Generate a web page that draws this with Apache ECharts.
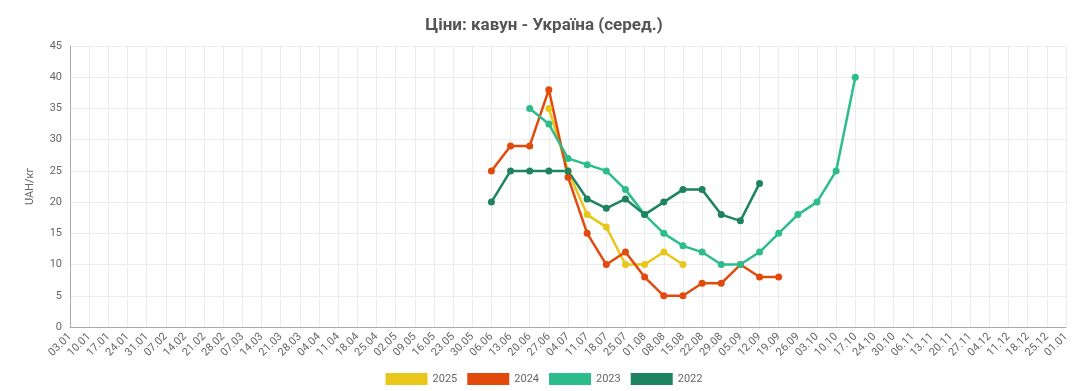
<!DOCTYPE html>
<html>
<head>
<meta charset="utf-8">
<script src="https://cdn.jsdelivr.net/npm/echarts@6/dist/echarts.min.js"></script>
<style>html,body{margin:0;padding:0;background:#fff}#c{width:1088px;height:391px}</style>
</head>
<body>
<div id="c"></div>
<script>
const categories = ["03.01","10.01","17.01","24.01","31.01","07.02","14.02","21.02","28.02","07.03","14.03","21.03","28.03","04.04","11.04","18.04","25.04","02.05","09.05","16.05","23.05","30.05","06.06","13.06","20.06","27.06","04.07","11.07","18.07","25.07","01.08","08.08","15.08","22.08","29.08","05.09","12.09","19.09","26.09","03.10","10.10","17.10","24.10","30.10","06.11","13.11","20.11","27.11","04.12","11.12","18.12","25.12","01.01"];
const pad = n => Array(n).fill(null);
// values starting at 06.06 (index 22)
const v2025 = [null,null,null,35,25,18,16,10,10,12,10];
const v2024 = [25,29,29,38,24,15,10,12,8,5,5,7,7,10,8,8];
const v2023 = [null,null,35,32.5,27,26,25,22,18,15,13,12,10,10,12,15,18,20,25,40];
const v2022 = [20,25,25,25,25,20.5,19,20.5,18,20,22,22,18,17,23];
const startIndex = 22;
const yTicks = [0,5,10,15,20,25,30,35,40,45];
const full = arr => pad(startIndex).concat(arr);
const colors = {"2025":"#e8c71a","2024":"#e24a0c","2023":"#2dbd8c","2022":"#1d8360"};
const seriesData = [["2025",v2025],["2024",v2024],["2023",v2023],["2022",v2022]];
const chart = echarts.init(document.getElementById('c'));
chart.setOption({
  animation:false,
  textStyle:{fontFamily:'Roboto'},
  title:{text:'Ціни: кавун - Україна (серед.)',left:'center',top:12,textStyle:{fontFamily:'Roboto',fontSize:17,fontWeight:'bold',color:'#555'}},
  grid:{left:70,right:22,top:46,bottom:64},
  legend:{bottom:1,left:'center',itemWidth:42,itemHeight:12,itemGap:10,icon:'rect',textStyle:{color:'#666',fontSize:11},data:["2025","2024","2023","2022"]},
  xAxis:{type:'category',data:categories,boundaryGap:false,
    axisLine:{lineStyle:{color:'#aaa'}},axisTick:{show:false},
    axisLabel:{rotate:45,color:'#666',fontSize:11,interval:0,margin:8},
    splitLine:{show:true,lineStyle:{color:'#ececec'}}},
  yAxis:{type:'value',min:yTicks[0],max:yTicks[yTicks.length-1],interval:5,
    name:'UAH/кг',nameLocation:'middle',nameGap:34,nameTextStyle:{color:'#666',fontSize:11},
    axisLine:{show:true,lineStyle:{color:'#aaa'}},axisTick:{show:false},
    axisLabel:{color:'#666',fontSize:11},
    splitLine:{lineStyle:{color:'#ececec'}}},
  series:seriesData.map(([name,arr])=>({
    name,type:'line',data:full(arr),connectNulls:false,
    symbol:'circle',symbolSize:7,showSymbol:true,
    lineStyle:{width:2.5,color:colors[name]},itemStyle:{color:colors[name]}
  }))
});
</script>
</body>
</html>
